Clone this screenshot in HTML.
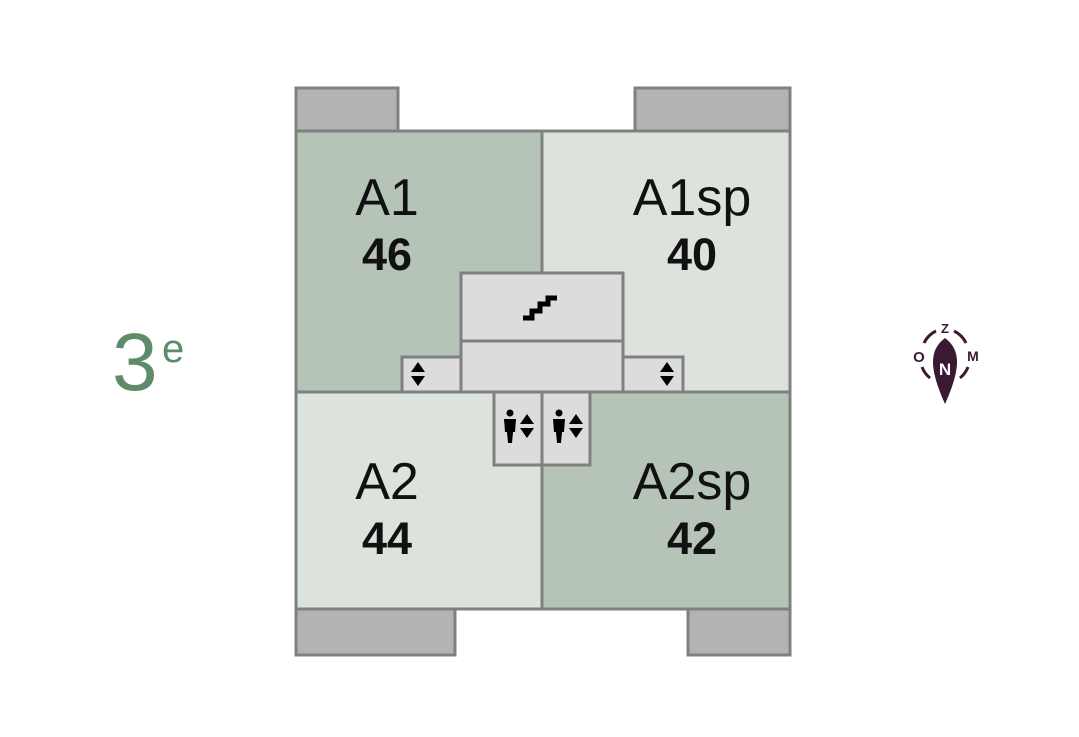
<!DOCTYPE html>
<html><head><style>html,body{margin:0;padding:0;background:#fff;}svg{display:block}</style></head>
<body>
<svg width="1079" height="737" viewBox="0 0 1079 737" xmlns="http://www.w3.org/2000/svg" font-family="Liberation Sans, sans-serif">
<g stroke="#808080" stroke-width="3">
<rect x="296" y="88" width="102" height="43" fill="#b3b3b3"/>
<rect x="635" y="88" width="155" height="43" fill="#b3b3b3"/>
<rect x="296" y="609" width="159" height="46" fill="#b3b3b3"/>
<rect x="688" y="609" width="102" height="46" fill="#b3b3b3"/>
<rect x="296" y="131" width="246" height="261" fill="#b5c4b7"/>
<rect x="542" y="131" width="248" height="261" fill="#dbe3dc"/>
<rect x="296" y="392" width="246" height="217" fill="#dbe3dc"/>
<rect x="542" y="392" width="248" height="217" fill="#b5c4b7"/>
<rect x="402" y="357" width="59" height="35" fill="#dcdcdc"/>
<rect x="623" y="357" width="60" height="35" fill="#dcdcdc"/>
<rect x="461" y="273" width="162" height="68" fill="#dcdcdc"/>
<rect x="461" y="341" width="162" height="51" fill="#dcdcdc"/>
<rect x="494" y="392" width="48" height="73" fill="#dcdcdc"/>
<rect x="542" y="392" width="48" height="73" fill="#dcdcdc"/>
</g>
<path d="M523 318 h9 v-7 h8 v-7 h8 v-6 h9" fill="none" stroke="#000" stroke-width="5"/>
<g fill="#000">
<path d="M411 372 l7 -10 l7 10z M411 376 l7 10 l7 -10z"/>
<path d="M660 372 l7 -10 l7 10z M660 376 l7 10 l7 -10z"/>
<path d="M520 424 l7 -10 l7 10z M520 428 l7 10 l7 -10z"/>
<path d="M569 424 l7 -10 l7 10z M569 428 l7 10 l7 -10z"/>
<circle cx="510" cy="413" r="3.5"/><path d="M504 419 h12 l-1 13 h-2 l-1 11 h-4 l-1 -11 h-2z"/>
<circle cx="559" cy="413" r="3.5"/><path d="M553 419 h12 l-1 13 h-2 l-1 11 h-4 l-1 -11 h-2z"/>
</g>
<g text-anchor="middle" fill="#111">
<text x="387" y="215" font-size="52">A1</text>
<text x="387" y="270" font-size="45" font-weight="bold">46</text>
<text x="692" y="215" font-size="52">A1sp</text>
<text x="692" y="270" font-size="45" font-weight="bold">40</text>
<text x="387" y="499" font-size="52">A2</text>
<text x="387" y="554" font-size="45" font-weight="bold">44</text>
<text x="692" y="499" font-size="52">A2sp</text>
<text x="692" y="554" font-size="45" font-weight="bold">42</text>
</g>
<text x="112" y="390" font-size="82" fill="#5e8c6a">3</text>
<text x="162" y="362" font-size="40" fill="#5e8c6a">e</text>
<g fill="#3a1a33">
<path d="M945 338 c-16 12 -16 30 0 66 c16 -36 16 -54 0 -66z"/>
<text x="945" y="375" font-size="17" font-weight="bold" fill="#fff" text-anchor="middle">N</text>
<text x="945" y="333" font-size="13" font-weight="bold" text-anchor="middle">Z</text>
<text x="919" y="362" font-size="15" font-weight="bold" text-anchor="middle">O</text>
<text x="973" y="361" font-size="14" font-weight="bold" text-anchor="middle">M</text>
</g>
<g stroke="#3a1a33" stroke-width="3" fill="none">
<path d="M924 343 a26 26 0 0 1 12 -12"/><path d="M954 331 a26 26 0 0 1 12 12"/>
<path d="M922 367 a26 26 0 0 0 8 11"/><path d="M968 367 a26 26 0 0 1 -8 11"/>
</g>
</svg>
</body></html>
